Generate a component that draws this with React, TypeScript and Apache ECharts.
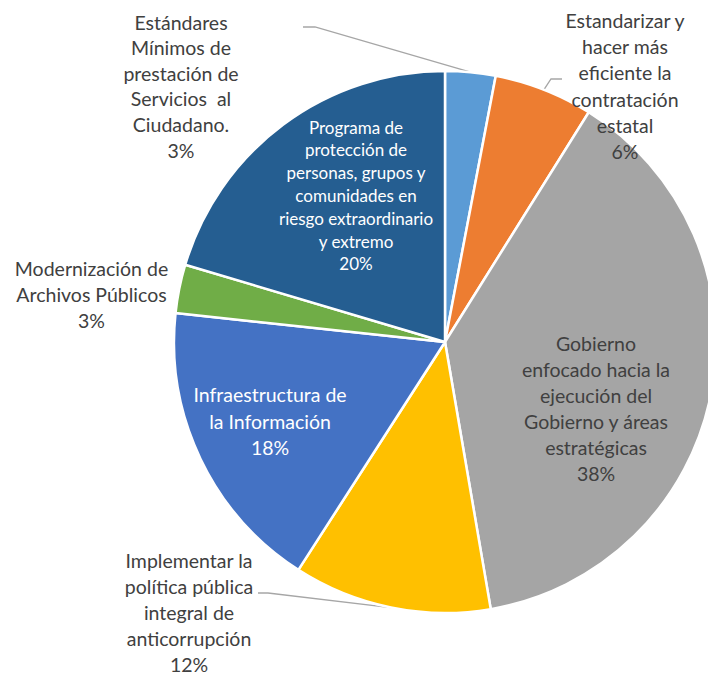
import React, { useEffect, useRef } from 'react';
import * as echarts from 'echarts';

const categories = [
  'Estándares\nMínimos de\nprestación de\nServicios  al\nCiudadano.',
  'Estandarizar y\nhacer más\neficiente la\ncontratación\nestatal',
  'Gobierno\nenfocado hacia la\nejecución del\nGobierno y áreas\nestratégicas',
  'Implementar la\npolítica pública\nintegral de\nanticorrupción',
  'Infraestructura de\nla Información',
  'Modernización de\nArchivos Públicos',
  'Programa de\nprotección de\npersonas, grupos y\ncomunidades en\nriesgo extraordinario\ny extremo',
];
const values = [3.0, 5.9, 38.4, 11.8, 17.6, 2.9, 20.4];
const colors = ['#5B9BD5', '#ED7D31', '#A5A5A5', '#FFC000', '#4472C4', '#70AD47', '#255E91'];

const CENTER = [445, 342];
const RADIUS = 271;
const FONT = 'Lato, "Noto Sans", sans-serif';

// label placement (layout only)
const labelLayouts = [
  { x: 181, y: 86, color: '#404040', size: 19.5, lh: 25.6, bend: [[315, 27], [303, 27]] },
  { x: 625, y: 86, color: '#404040', size: 19.5, lh: 26.2, bend: [[551, 79], [562, 79]] },
  { x: 596, y: 408, color: '#404040', size: 19.5, lh: 26 },
  { x: 189, y: 612, color: '#404040', size: 19.5, lh: 26, bend: [[268, 593], [258, 593]] },
  { x: 270, y: 421, color: '#FFFFFF', size: 19.5, lh: 26.5 },
  { x: 91.5, y: 294, color: '#404040', size: 19.5, lh: 26 },
  { x: 356, y: 195.5, color: '#FFFFFF', size: 17, lh: 22.8 },
];

const total = values.reduce((a, b) => a + b, 0);

function edgePoint(i: number): number[] {
  let before = 0;
  for (let k = 0; k < i; k++) before += values[k];
  const mid = ((before + values[i] / 2) / total) * Math.PI * 2;
  return [CENTER[0] + RADIUS * Math.sin(mid), CENTER[1] - RADIUS * Math.cos(mid)];
}

export default function App() {
  const ref = useRef<HTMLDivElement>(null);
  useEffect(() => {
    if (!ref.current) return;
    const chart = echarts.init(ref.current, undefined, { renderer: 'svg' });
    const data = categories.map((name, i) => {
      const L = labelLayouts[i];
      return {
        name,
        value: values[i],
        itemStyle: { color: colors[i] },
        label: {
          color: L.color,
          fontSize: L.size,
          lineHeight: L.lh,
        },
        labelLine: {
          show: !!L.bend,
          smooth: false,
          lineStyle: { color: '#A6A6A6', width: 1.3 },
        },
      };
    });
    chart.setOption({
      animation: false,
      backgroundColor: '#FFFFFF',
      series: [
        {
          type: 'pie',
          center: CENTER,
          radius: RADIUS,
          startAngle: 90,
          clockwise: true,
          avoidLabelOverlap: false,
          emphasis: { disabled: true },
          itemStyle: { borderColor: '#FFFFFF', borderWidth: 2.5 },
          label: {
            show: true,
            position: 'outside',
            fontFamily: FONT,
            align: 'center',
            width: 240,
            overflow: 'none',
            formatter: (p: any) => `${p.name}\n${Math.round((p.value / total) * 100)}%`,
          },
          labelLayout: (params: any) => {
            const L = labelLayouts[params.dataIndex];
            const out: any = { x: L.x, y: L.y, align: 'center', verticalAlign: 'middle' };
            if (L.bend) {
              out.labelLinePoints = [edgePoint(params.dataIndex), L.bend[0], L.bend[1]];
            }
            return out;
          },
          data,
        },
      ],
    });
    return () => chart.dispose();
  }, []);
  return (
    <div
      ref={ref}
      style={{ position: 'absolute', left: 0, top: 0, width: 708, height: 674 }}
    />
  );
}
